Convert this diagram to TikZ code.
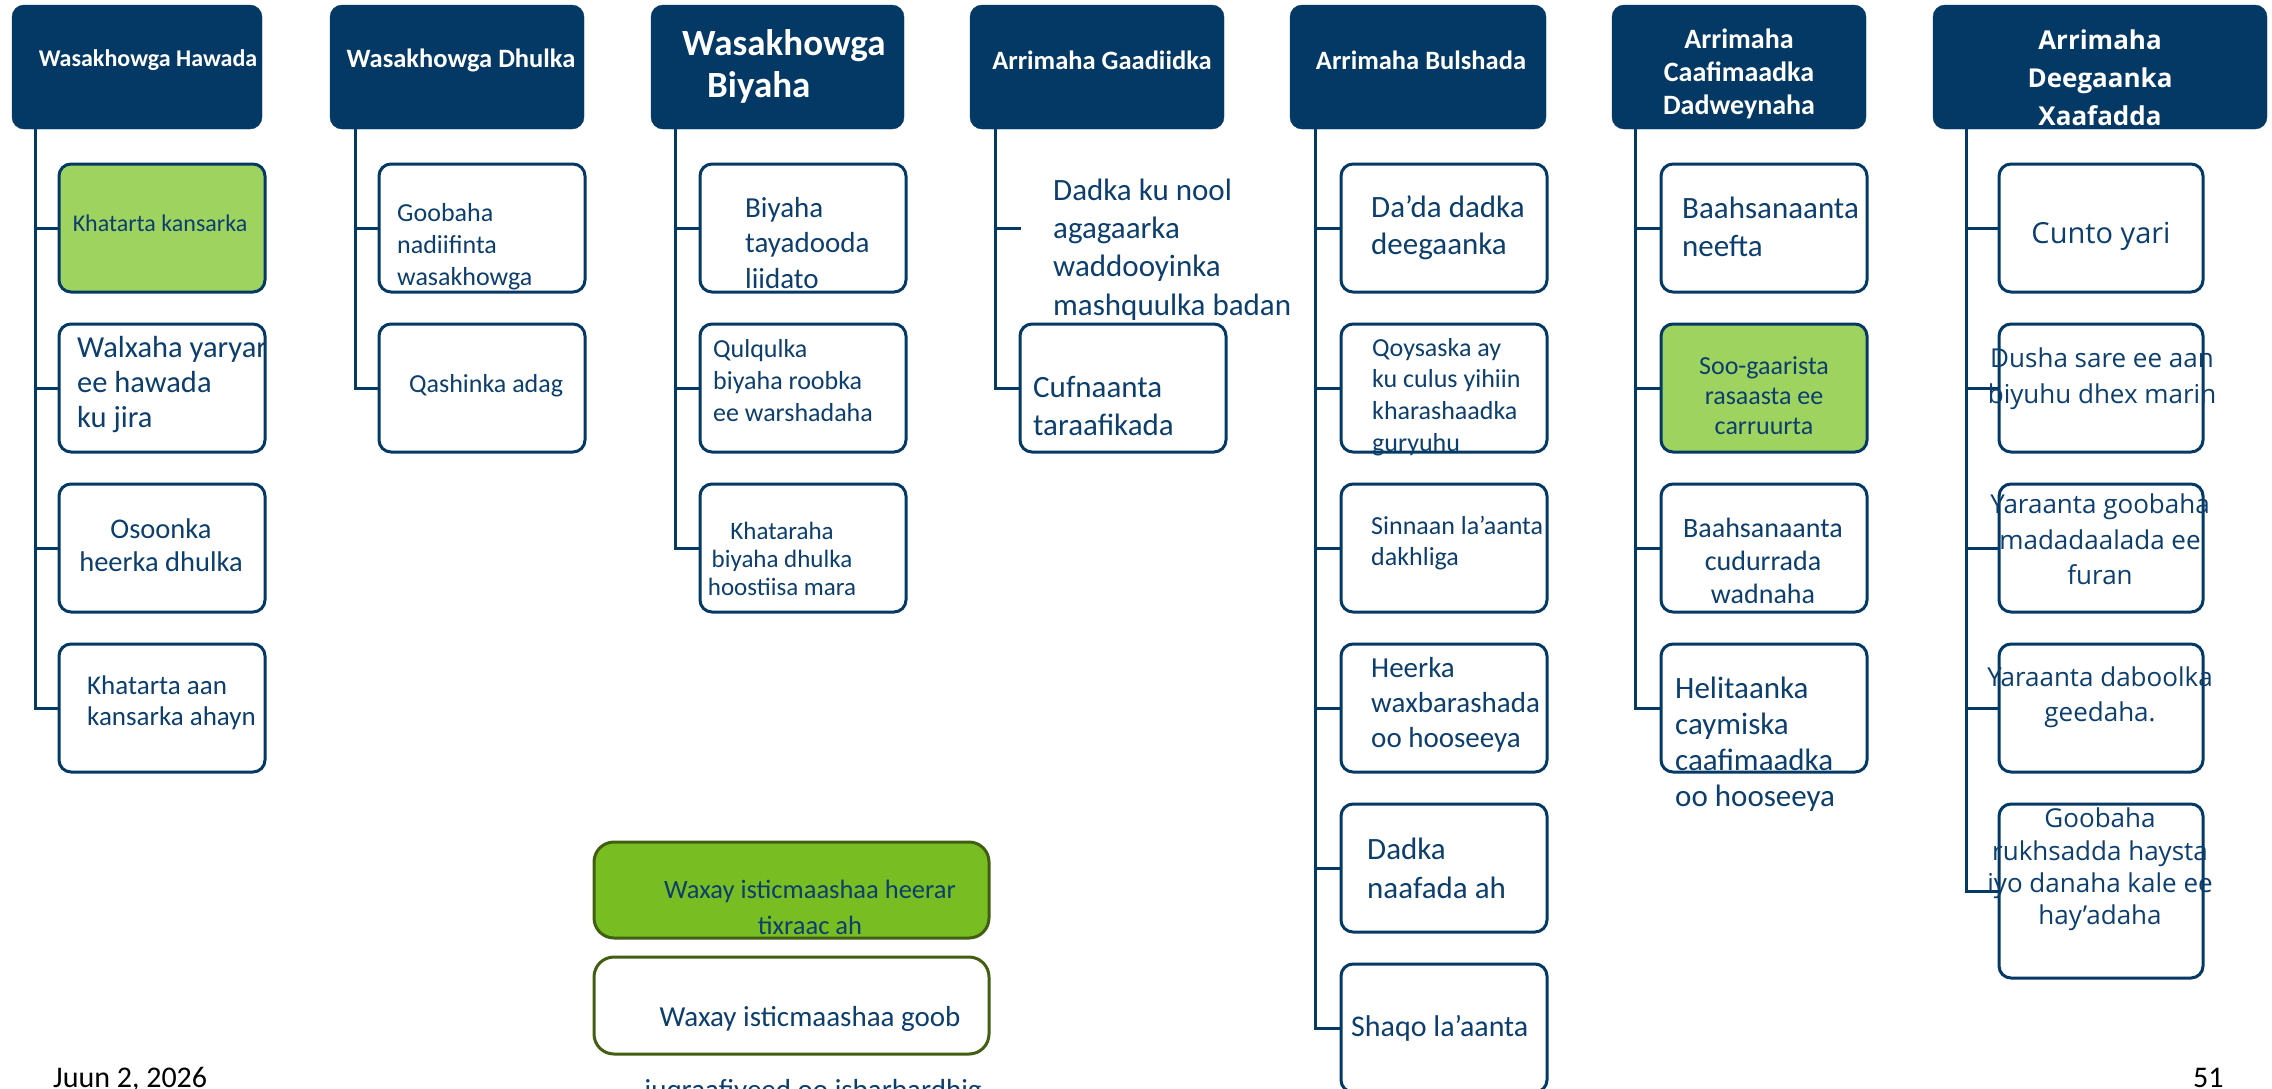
\documentclass[tikz,border=0pt]{standalone}
\usepackage{fontspec}
\setmainfont{Carlito}
\newfontfamily\osans{Open Sans}
\definecolor{navy}{RGB}{4,57,102}
\definecolor{txtnavy}{RGB}{12,62,110}
\definecolor{lgreen}{RGB}{157,211,94}
\definecolor{bgreen}{RGB}{120,189,33}
\definecolor{dgreen}{RGB}{66,94,18}
\newcommand\fsz[2]{\fontsize{#1}{#2}\selectfont}
\begin{document}
\begin{tikzpicture}[x=1pt,y=-1pt,
 hdr/.style={fill=navy, draw=navy, rounded corners=12, inner sep=0, minimum height=124},
 cbox/.style={draw=navy, line width=3, fill=white, rounded corners=12, inner sep=0, minimum width=206, minimum height=128},
 gbox/.style={cbox, fill=lgreen},
 bbox/.style={draw=dgreen, line width=3, rounded corners=20, inner sep=0, minimum width=395, minimum height=96},
 trunk/.style={draw=navy, line width=3},
 htxt/.style={text=white, inner sep=0},
 ctxt/.style={text=txtnavy, inner sep=0},
]
\fill[white] (0,0) rectangle (2272,1088);
\useasboundingbox (0,0) rectangle (2272,1088);

% headers
\node[hdr, minimum width=250] (h1) at (137,67) {};
\node[hdr, minimum width=254] (h2) at (457,67) {};
\node[hdr, minimum width=253] (h3) at (777.5,67) {};
\node[hdr, minimum width=254] (h4) at (1097,67) {};
\node[hdr, minimum width=256] (h5) at (1418,67) {};
\node[hdr, minimum width=254] (h6) at (1739,67) {};
\node[hdr, minimum width=334] (h7) at (2100,67) {};

% trunk tops
\coordinate (t1) at (35,129);
\coordinate (t2) at (355,129);
\coordinate (t3) at (675,129);
\coordinate (t4) at (995,129);
\coordinate (t5) at (1315,129);
\coordinate (t6) at (1635,129);
\coordinate (t7) at (1966,129);

% children boxes
\node[gbox] (g1c1) at (162,228) {};
\node[cbox] (g1c2) at (162,388) {};
\node[cbox] (g1c3) at (162,548) {};
\node[cbox] (g1c4) at (162,708) {};

\node[cbox] (g2c1) at (482,228) {};
\node[cbox] (g2c2) at (482,388) {};

\node[cbox] (g3c1) at (803,228) {};
\node[cbox] (g3c2) at (803,388) {};
\node[cbox] (g3c3) at (803,548) {};

\coordinate (g4c1) at (1021,228);
\node[cbox] (g4c2) at (1123,388) {};

\node[cbox] (g5c1) at (1444,228) {};
\node[cbox] (g5c2) at (1444,388) {};
\node[cbox] (g5c3) at (1444,548) {};
\node[cbox] (g5c4) at (1444,708) {};
\node[cbox] (g5c5) at (1444,868) {};
\node[cbox] (g5c6) at (1444,1028) {};

\node[cbox] (g6c1) at (1764,228) {};
\node[gbox] (g6c2) at (1764,388) {};
\node[cbox] (g6c3) at (1764,548) {};
\node[cbox] (g6c4) at (1764,708) {};

\node[cbox, minimum width=204] (g7c1) at (2101,228) {};
\node[cbox, minimum width=204] (g7c2) at (2101,388) {};
\node[cbox, minimum width=204] (g7c3) at (2101,548) {};
\node[cbox, minimum width=204] (g7c4) at (2101,708) {};
\node[cbox, minimum width=204, minimum height=174] (g7c5) at (2101,891) {};

% connectors
\foreach \c in {g1c1,g1c2,g1c3,g1c4} \draw[trunk] (t1) |- (\c.west);
\foreach \c in {g2c1,g2c2} \draw[trunk] (t2) |- (\c.west);
\foreach \c in {g3c1,g3c2,g3c3} \draw[trunk] (t3) |- (\c.west);
\draw[trunk] (t4) |- (g4c1);
\draw[trunk] (t4) |- (g4c2.west);
\foreach \c in {g5c1,g5c2,g5c3,g5c4,g5c5,g5c6} \draw[trunk] (t5) |- (\c.west);
\foreach \c in {g6c1,g6c2,g6c3,g6c4} \draw[trunk] (t6) |- (\c.west);
\foreach \c in {g7c1,g7c2,g7c3,g7c4,g7c5} \draw[trunk] (t7) |- (\c.west);

% header texts
\node[htxt, font=\bfseries\fsz{24}{29}] (h1t) at (148,60) {Wasakhowga Hawada};
\node[htxt, font=\bfseries\fsz{26.5}{31}] (h2t) at (461,60) {Wasakhowga Dhulka};
\node[htxt, font=\bfseries\fsz{37}{42}, align=left, anchor=west] (h3t) at (682,66) {Wasakhowga\\\hspace*{25pt}Biyaha};
\node[htxt, font=\bfseries\fsz{26.5}{31}] (h4t) at (1102,60) {Arrimaha Gaadiidka};
\node[htxt, font=\bfseries\fsz{26.5}{32}] (h5t) at (1421,60) {Arrimaha Bulshada};
\node[htxt, font=\bfseries\fsz{28}{33}, align=center] (h6t) at (1739,73.5) {Arrimaha\\Caafimaadka\\Dadweynaha};
\node[htxt, font=\osans\bfseries\fsz{26}{38}, align=center] (h7t) at (2100,78) {Arrimaha\\Deegaanka\\Xaafadda};

% child texts
\node[ctxt, font=\fsz{24}{29}] (g1c1t) at (160,223) {Khatarta kansarka};
\node[ctxt, font=\fsz{30.5}{35}, align=left, anchor=west] (g1c2t) at (77,385) {Walxaha yaryar\\ee hawada\\ku jira};
\node[ctxt, font=\fsz{28.5}{33}, align=center] (g1c3t) at (161,545) {Osoonka\\heerka dhulka};
\node[ctxt, font=\fsz{27}{31}, align=left, anchor=west] (g1c4t) at (87,703) {Khatarta aan\\kansarka ahayn};

\node[ctxt, font=\fsz{26}{32}, align=left, anchor=west] (g2c1t) at (397,247) {Goobaha\\nadiifinta\\wasakhowga};
\node[ctxt, font=\fsz{26}{31}, anchor=west] (g2c2t) at (409,386) {Qashinka adag};

\node[ctxt, font=\fsz{29}{35.5}, align=left, anchor=west] (g3c1t) at (745,243) {Biyaha\\tayadooda\\liidato};
\node[ctxt, font=\fsz{26}{32}, align=left, anchor=west] (g3c2t) at (713,381) {Qulqulka\\biyaha roobka\\ee warshadaha};
\node[ctxt, font=\fsz{25}{28}, align=center] (g3c3t) at (782,559) {Khataraha\\biyaha dhulka\\hoostiisa mara};

\node[ctxt, font=\fsz{31}{38.3}, align=left, anchor=west] (g4c1t) at (1053,249.5) {Dadka ku nool\\agagaarka\\waddooyinka\\mashquulka badan};
\node[ctxt, font=\fsz{31}{38}, align=left, anchor=west] (g4c2t) at (1033,406) {Cufnaanta\\taraafikada};

\node[ctxt, font=\fsz{31}{37}, align=left, anchor=west] (g5c1t) at (1371,227.5) {Da’da dadka\\deegaanka};
\node[ctxt, font=\fsz{26}{31.7}, align=left, anchor=west] (g5c2t) at (1372,397) {Qoysaska ay\\ku culus yihiin\\kharashaadka\\guryuhu};
\node[ctxt, font=\fsz{26}{31}, align=left, anchor=west] (g5c3t) at (1371,543.5) {Sinnaan la’aanta\\dakhliga};
\node[ctxt, font=\fsz{29}{35}, align=left, anchor=west] (g5c4t) at (1371,705) {Heerka\\waxbarashada\\oo hooseeya};
\node[ctxt, font=\fsz{31}{39}, align=left, anchor=west] (g5c5t) at (1367,868.5) {Dadka\\naafada ah};
\node[ctxt, font=\fsz{30}{36}, anchor=west] (g5c6t) at (1351,1028) {Shaqo la’aanta};

\node[ctxt, font=\fsz{31}{38}, align=left, anchor=west] (g6c1t) at (1682,227) {Baahsanaanta\\neefta};
\node[ctxt, font=\fsz{26}{30}, align=center] (g6c2t) at (1764,396) {Soo-gaarista\\rasaasta ee\\carruurta};
\node[ctxt, font=\fsz{28}{33}, align=center] (g6c3t) at (1763,561) {Baahsanaanta\\cudurrada\\wadnaha};
\node[ctxt, font=\fsz{31}{36}, align=left, anchor=west] (g6c4t) at (1675,744) {Helitaanka\\caymiska\\caafimaadka\\oo hooseeya};

\node[ctxt, font=\osans\fsz{29}{36}] (g7c1t) at (2101,236) {Cunto yari};
\node[ctxt, font=\osans\fsz{26}{36}, align=center] (g7c2t) at (2102,379) {Dusha sare ee aan\\biyuhu dhex marin};
\node[ctxt, font=\osans\fsz{26}{35.5}, align=center] (g7c3t) at (2100,539.5) {Yaraanta goobaha\\madadaalada ee\\furan};
\node[ctxt, font=\osans\fsz{26}{35}, align=center] (g7c4t) at (2100,697.5) {Yaraanta daboolka\\geedaha.};
\node[ctxt, font=\osans\fsz{26}{32.3}, align=center] (g7c5t) at (2100,869.5) {Goobaha\\rukhsadda haysta\\iyo danaha kale ee\\hay’adaha};

% bottom boxes
\node[bbox, fill=bgreen] (b1) at (791.5,890) {};
\node[bbox, fill=white, minimum height=97] (b2) at (791.5,1005.5) {};
\node[ctxt, font=\fsz{26.5}{36}, align=center] (b1t) at (810,907) {Waxay isticmaashaa heerar\\tixraac ah};
\node[ctxt, font=\fsz{29}{35}] (b2t) at (810,1019) {Waxay isticmaashaa goob};
\node[ctxt, font=\fsz{29}{35}, anchor=base] (b3t) at (813,1099) {juqraafiyeed oo isbarbardhig};

% footer
\node[inner sep=0, text=black, font=\fsz{30}{36}, anchor=base west] (date) at (53,1087) {Juun 2, 2026};
\node[inner sep=0, text=black, font=\fsz{30}{36}, anchor=base west] (pnum) at (2193,1087) {51};
\end{tikzpicture}
\end{document}
